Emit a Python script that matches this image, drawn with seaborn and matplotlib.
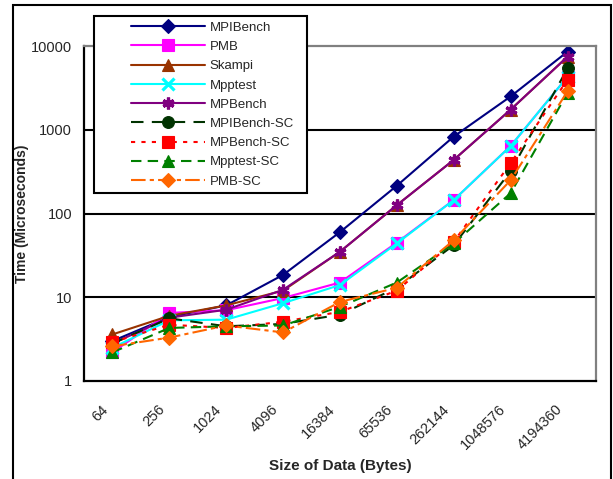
import numpy as np
import matplotlib
matplotlib.use("Agg")
import matplotlib.pyplot as plt
import matplotlib.patches as mpatches
import matplotlib.transforms as mtransforms
import seaborn as sns

# data (time in microseconds)
sizes = ["64", "256", "1024", "4096", "16384", "65536", "262144", "1048576", "4194360"]
mpibench = [3.0, 5.8, 8.0, 18.5, 60, 215, 830, 2500, 8570]
pmb = [2.2, 6.5, 7.0, 9.8, 15, 45, 145, 640, 4300]
skampi = [3.6, 6.0, 8.0, 12.0, 35, 126, 437, 1740, 7460]
mpptest = [2.5, 5.3, 5.4, 8.5, 14, 44, 145, 640, 4300]
mpbench = [2.8, 5.7, 7.1, 12.3, 35, 126, 437, 1740, 7460]
mpibench_sc = [2.8, 5.6, 4.5, 4.8, 6.2, 13.0, 42, 320, 5400]
mpbench_sc = [2.9, 4.7, 4.3, 5.1, 6.7, 12.0, 46, 400, 3960]
mpptest_sc = [2.2, 4.3, 4.5, 4.6, 7.7, 15.0, 44, 175, 2760]
pmb_sc = [2.6, 3.3, 4.6, 3.8, 8.8, 13.0, 48, 250, 2880]

series = [
    ("MPIBench", mpibench, "#000080", "D", "-"),
    ("PMB", pmb, "#FF00FF", "s", "-"),
    ("Skampi", skampi, "#993300", "^", "-"),
    ("Mpptest", mpptest, "#00FFFF", "x", "-"),
    ("MPBench", mpbench, "#800080", (6, 2, 0), "-"),
    ("MPIBench-SC", mpibench_sc, "#003300", "o", (0, (6, 4))),
    ("MPBench-SC", mpbench_sc, "#FF0000", "s", (0, (2, 3))),
    ("Mpptest-SC", mpptest_sc, "#008000", "^", (0, (5, 3))),
    ("PMB-SC", pmb_sc, "#FF6600", "D", (0, (7, 2, 2, 2))),
]

sns.set_style("white")
plt.rcParams["font.family"] = ["Liberation Sans", "DejaVu Sans"]

fig = plt.figure(figsize=(6.13, 4.79), dpi=100)
ax = fig.add_axes([84 / 613, 1 - 381 / 479, (596 - 84) / 613, (381 - 46) / 479])

xpos = np.arange(len(sizes))
for name, vals, color, marker, ls in series:
    ms = 7.5 if marker == "D" else 8.5
    mew = 2.3 if marker in ("x", (6, 2, 0)) else 0.8
    sns.lineplot(x=xpos, y=vals, ax=ax, color=color, marker=marker, linestyle=ls,
                 linewidth=1.5, markersize=ms, markeredgecolor=color,
                 markeredgewidth=mew, label=name, legend=False)

ax.set_yscale("log")
ax.set_ylim(1, 10000)
ax.set_yticks([1, 10, 100, 1000, 10000])
ax.set_yticklabels(["1", "10", "100", "1000", "10000"])
ax.yaxis.set_minor_locator(matplotlib.ticker.NullLocator())
ax.set_xlim(-0.5, len(sizes) - 0.5)
ax.set_xticks(np.arange(len(sizes) + 1) - 0.5)
ax.set_xticklabels([])
ax.set_xticks(xpos, minor=True)
ax.set_xticklabels(sizes, minor=True, rotation=45, ha="right", va="center",
                   rotation_mode="anchor", fontsize=10.5)
ax.tick_params(axis="x", which="minor", length=0, pad=16)
ax.tick_params(axis="x", which="major", direction="out", length=5, width=1.5, color="black")
ax.tick_params(axis="y", direction="inout", length=9, width=1.5, color="black",
               labelsize=10.5, pad=4)
shift = mtransforms.ScaledTranslation(-7 / 100, -4 / 100, fig.dpi_scale_trans)
for lab in ax.get_xticklabels(minor=True):
    lab.set_transform(lab.get_transform() + shift)

ax.grid(False)
for y in [10, 100, 1000]:
    ax.axhline(y, color="black", linewidth=1.5, zorder=0.5)

for side in ["left", "bottom"]:
    ax.spines[side].set_color("black")
    ax.spines[side].set_linewidth(1.6)
for side in ["top", "right"]:
    ax.spines[side].set_color("#808080")
    ax.spines[side].set_linewidth(1.6)

ax.set_xlabel("Size of Data (Bytes)", fontsize=11, fontweight="bold")
ax.set_ylabel("Time (Microseconds)", fontsize=10, fontweight="bold")
ax.xaxis.set_label_coords(340 / 613, 1 - 459 / 479, transform=fig.transFigure)
ax.yaxis.set_label_coords(29 / 613, 1 - 214 / 479, transform=fig.transFigure)

# legend box drawn as a patch, legend itself without frame
box = mpatches.Rectangle((94 / 613, 1 - 193 / 479), (307 - 94) / 613, (193 - 16) / 479,
                         transform=fig.transFigure, facecolor="white", edgecolor="black",
                         linewidth=1.5, clip_on=False, zorder=4.9)
ax.add_patch(box)
leg = ax.legend(loc="upper left", bbox_to_anchor=(128 / 613, 1 - 19 / 479),
                bbox_transform=fig.transFigure, frameon=False, fontsize=9.5,
                handlelength=5.6, handletextpad=0.4, labelspacing=0.53,
                borderaxespad=0, borderpad=0.2)
leg.set_zorder(5)

# outer chart border
fig.add_artist(mpatches.Rectangle((13 / 613, -0.02), (611 - 13) / 613, 1.02 - 5 / 479,
                                  transform=fig.transFigure, fill=False,
                                  edgecolor="black", linewidth=1.5))

fig.savefig("out.png", dpi=100)
